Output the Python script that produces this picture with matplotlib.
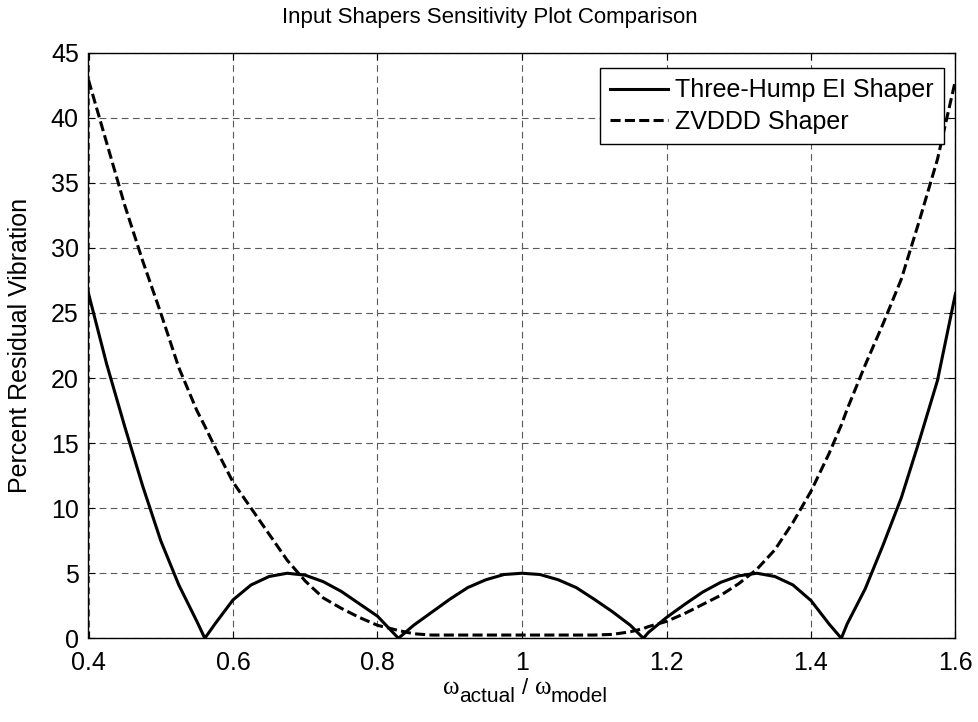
import matplotlib
matplotlib.use("Agg")
import matplotlib.pyplot as plt

# frequency ratio (w_actual / w_model)
ratio = [0.400, 0.425, 0.450, 0.475, 0.500, 0.525, 0.550, 0.561, 0.575, 0.600,
         0.625, 0.650, 0.675, 0.700, 0.725, 0.750, 0.775, 0.800, 0.829, 0.850,
         0.875, 0.900, 0.925, 0.950, 0.975, 1.000, 1.025, 1.050, 1.075, 1.100,
         1.125, 1.150, 1.168, 1.175, 1.200, 1.225, 1.250, 1.275, 1.300, 1.325,
         1.350, 1.375, 1.400, 1.425, 1.442, 1.450, 1.475, 1.500, 1.525, 1.550,
         1.575, 1.600]

# percent residual vibration, three-hump EI shaper
ei_vib = [26.5, 21.1, 16.3, 11.7, 7.5, 4.1, 1.3, 0.0, 1.1, 2.95,
          4.1, 4.75, 5.0, 4.85, 4.35, 3.6, 2.65, 1.7, 0.0, 1.0,
          2.0, 3.0, 3.9, 4.5, 4.9, 5.0, 4.9, 4.5, 3.9, 3.0,
          2.05, 1.0, 0.0, 0.45, 1.6, 2.6, 3.55, 4.3, 4.8, 5.0,
          4.75, 4.1, 2.9, 1.1, 0.0, 1.1, 3.8, 7.2, 10.8, 15.2,
          19.8, 26.5]

# percent residual vibration, ZVDDD shaper
zvddd_vib = [42.9, 38.1, 33.3, 29.0, 25.0, 20.8, 17.5, 16.3, 14.7, 12.0,
             10.0, 8.0, 6.0, 4.4, 3.1, 2.3, 1.6, 1.0, 0.6, 0.35,
             0.25, 0.25, 0.25, 0.25, 0.25, 0.25, 0.25, 0.25, 0.25, 0.25,
             0.3, 0.5, 0.75, 0.9, 1.3, 1.9, 2.6, 3.3, 4.2, 5.3,
             6.8, 8.9, 11.3, 14.2, 16.4, 17.6, 21.0, 24.2, 27.6, 32.1,
             36.8, 42.9]

plt.rcParams['font.family'] = 'Liberation Sans'

W, H = 979, 722
fig = plt.figure(figsize=(W / 100, H / 100), dpi=100)
ax = fig.add_axes([88.5 / W, (H - 638.3) / H, 867 / W, 585.6 / H])

ax.plot(ratio, ei_vib, color='k', lw=2.2, label='Three-Hump EI Shaper')
ln, = ax.plot(ratio, zvddd_vib, color='k', lw=2.2, label='ZVDDD Shaper')
ln.set_dashes((3.3, 1.4))

ax.set_xlim(0.4, 1.6)
ax.set_ylim(0, 45)
ax.set_xticks([0.4, 0.6, 0.8, 1.0, 1.2, 1.4, 1.6])
ax.set_xticklabels(['0.4', '0.6', '0.8', '1', '1.2', '1.4', '1.6'])
ax.set_yticks(range(0, 46, 5))
ax.tick_params(direction='in', length=5, width=0.8, labelsize=18,
               top=True, right=True, pad=7)
ax.tick_params(axis='x', pad=9)
ax.grid(True, color='0.35', lw=0.8, dashes=(6, 4))
for s in ax.spines.values():
    s.set_linewidth(1.0)

# title is centred on the figure in the reference
fig.text(0.5, 1 - 18 / H, 'Input Shapers Sensitivity Plot Comparison',
         fontsize=16, ha='center', va='center')

ax.set_ylabel('Percent Residual Vibration', fontsize=18)
ax.yaxis.set_label_coords(-0.065, 0.5)

leg = ax.legend(loc='upper right', bbox_to_anchor=(0.9867, 0.9734), borderaxespad=0,
                fontsize=18, handlelength=2.3, handletextpad=0.3, labelspacing=0.3,
                fancybox=False, edgecolor='k', framealpha=1, borderpad=0.4)
leg.get_frame().set_linewidth(1.0)

# x label: omega with lowered subscripts, like the MATLAB tex label
fig.canvas.draw()
rend = fig.canvas.get_renderer()
pieces = [('ω', 'Liberation Serif', 18, 0, 0), ('actual', 'Liberation Sans', 15, 8, 0),
          ('/', 'Liberation Sans', 16, 0, 7), ('ω', 'Liberation Serif', 18, 0, 6),
          ('model', 'Liberation Sans', 15, 8, 0)]
xpos = 443
for txt, fam, size, drop, gap in pieces:
    xpos += gap
    t = fig.text(xpos / W, 1 - (694 + drop) / H, txt, family=fam, fontsize=size,
                 ha='left', va='baseline')
    xpos += t.get_window_extent(rend).width

fig.savefig('out.png', dpi=100)
